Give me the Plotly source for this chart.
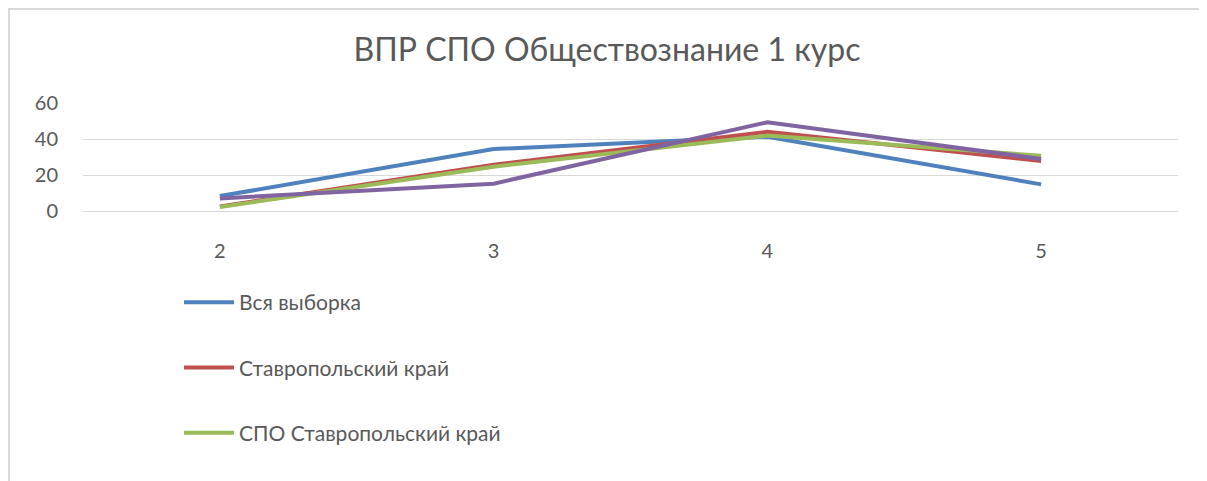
import plotly.graph_objects as go

categories = ["2", "3", "4", "5"]
series_names = ["Вся выборка", "Ставропольский край", "СПО Ставропольский край", "СПО ОО"]
vsya = [8.3, 34.4, 41.3, 14.8]
stavropol = [2.5, 25.7, 44.0, 27.8]
spo_stavropol = [2.2, 24.6, 41.9, 30.7]
spo_oo = [7.0, 15.2, 49.3, 28.9]
series_values = [vsya, stavropol, spo_stavropol, spo_oo]
colors = ["#4F81BD", "#C0504D", "#9BBB59", "#8064A2"]
y_ticks = [0, 20, 40, 60]
title_text = "ВПР СПО Обществознание 1 курс"

FONT = "Lato, 'Open Sans', sans-serif"
TXT = "#595959"

# page body margin offset (8px)
O = 8

fig = go.Figure()
for i, (name, vals, col) in enumerate(zip(series_names, series_values, colors)):
    fig.add_trace(go.Scatter(
        x=categories, y=vals, mode="lines", name=name,
        line=dict(color=col, width=4),
        legendgroup=f"g{i}", showlegend=(i < 3),
    ))

W, H = 1207 - O, 481 - O
L, R, T, B = 83 - O, 1178 - O, 103 - O, 211 - O


def px(x):
    return (x - O - L) / (R - L)


def py(y):
    return (B - (y - O)) / (B - T)


fig.update_layout(
    width=W, height=H,
    margin=dict(l=L, r=W - R, t=T, b=H - B, autoexpand=False),
    paper_bgcolor="white", plot_bgcolor="white",
    title=dict(text=title_text, x=(607 - O) / W, xanchor="center", xref="container",
               y=1 - (50 - O) / H, yanchor="middle", yref="container",
               font=dict(family=FONT, size=32, color=TXT)),
    font=dict(family=FONT, size=18, color=TXT),
    legend=dict(x=px(179), xanchor="left", y=py(282), yanchor="top",
                orientation="v", tracegroupgap=35, font=dict(size=21, color=TXT),
                bgcolor="rgba(0,0,0,0)", itemwidth=50),
    showlegend=True,
    xaxis=dict(type="category", range=[-0.5, 3.5], showgrid=False, showline=False,
               zeroline=False, ticks="", ticklabelstandoff=26,
               tickfont=dict(size=20, color=TXT)),
    yaxis=dict(range=[0, 60], tickvals=y_ticks, showgrid=True, gridcolor="#D9D9D9",
               gridwidth=1, zeroline=True, zerolinecolor="#D9D9D9", zerolinewidth=1,
               showline=False, ticks="", ticklabelstandoff=24,
               tickfont=dict(size=20, color=TXT)),
)

# chart frame (top, left, right edges visible; bottom cropped)
fig.add_shape(type="rect", xref="paper", yref="paper",
              x0=px(9), x1=px(1205), y0=py(500), y1=py(9),
              line=dict(color="#D9D9D9", width=2), fillcolor="rgba(0,0,0,0)", layer="below")

fig.write_html("out.html")
